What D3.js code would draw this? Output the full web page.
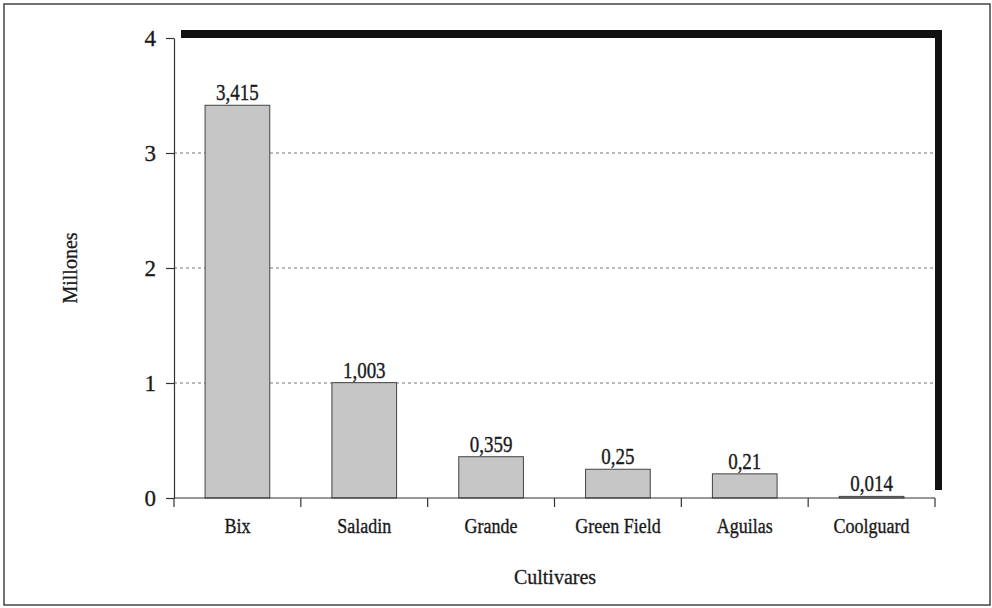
<!DOCTYPE html>
<html><head><meta charset="utf-8">
<script src="https://cdn.jsdelivr.net/npm/d3@7"></script>
<style>body{margin:0;background:#fff}svg{display:block}text{font-family:"Liberation Serif","Times New Roman",serif;fill:#1a1a1a;stroke:#1a1a1a;stroke-width:0.3}</style>
</head><body>
<svg id="c" width="992" height="608"></svg>
<script>
const categories = ["Bix","Saladin","Grande","Green Field","Aguilas","Coolguard"];
const values = [3.415,1.003,0.359,0.25,0.21,0.014];
const valueLabels = ["3,415","1,003","0,359","0,25","0,21","0,014"];
const yTicks = [0,1,2,3,4];

const svg = d3.select("#c");
const L=174,R=935,T=38,B=498;
svg.append("rect").attr("x",4).attr("y",4).attr("width",986).attr("height",601).attr("fill","#fff").attr("stroke","#444").attr("stroke-width",1.5);

const x = d3.scaleBand().domain(categories).range([L,R]).padding(0);
const y = d3.scaleLinear().domain([0,4]).range([B,T]);

// shadow frame
svg.append("rect").attr("x",L+7).attr("y",T-8).attr("width",R-L).attr("height",B-T).attr("fill","#111");
svg.append("rect").attr("x",L).attr("y",T).attr("width",R-L).attr("height",B-T).attr("fill","#fff");

// grid
svg.append("g").selectAll("line").data(yTicks.filter(d=>d>0&&d<4)).join("line")
  .attr("x1",L).attr("x2",R).attr("y1",d=>y(d)).attr("y2",d=>y(d))
  .attr("stroke","#777").attr("stroke-width",1).attr("stroke-dasharray","3,3");

// bars
const bw = x.bandwidth()*0.51;
svg.append("g").selectAll("rect").data(values).join("rect")
  .attr("x",(d,i)=>x(categories[i])+x.bandwidth()/2-bw/2)
  .attr("y",d=>y(d)).attr("width",bw).attr("height",d=>B-y(d))
  .attr("fill","#c6c6c6").attr("stroke","#444").attr("stroke-width",1);

// value labels
svg.append("g").selectAll("text").data(values).join("text")
  .attr("transform",(d,i)=>`translate(${x(categories[i])+x.bandwidth()/2},${y(d)-5}) scale(1,1.18)`)
  .attr("text-anchor","middle").attr("font-size",19).text((d,i)=>valueLabels[i]);

// y axis
const ya = d3.axisLeft(y).tickValues(yTicks).tickSize(8).tickSizeOuter(0).tickPadding(10).tickFormat(d3.format("d"));
const gy = svg.append("g").attr("transform",`translate(${L},0)`).call(ya);
gy.select(".domain").attr("stroke","#333").attr("stroke-width",1.2);
gy.selectAll(".tick line").attr("stroke","#333").attr("stroke-width",1.2);
gy.selectAll(".tick text").attr("font-size",23).attr("font-family","Liberation Serif").attr("fill","#1a1a1a");

// x axis
svg.append("line").attr("x1",L).attr("x2",R).attr("y1",B).attr("y2",B).attr("stroke","#333").attr("stroke-width",1.2);
const bounds = categories.map(c=>x(c)).concat([R]);
svg.append("g").selectAll("line").data(bounds).join("line")
  .attr("x1",d=>d).attr("x2",d=>d).attr("y1",B).attr("y2",B+9).attr("stroke","#333").attr("stroke-width",1.2);
svg.append("g").selectAll("text").data(categories).join("text")
  .attr("transform",d=>`translate(${x(d)+x.bandwidth()/2},${B+35}) scale(1,1.2)`)
  .attr("text-anchor","middle").attr("font-size",18).text(d=>d);

// axis titles
svg.append("text").attr("transform","translate(77,268) rotate(-90)").attr("text-anchor","middle").attr("font-size",20).text("Millones");
svg.append("text").attr("x",555).attr("y",584).attr("text-anchor","middle").attr("font-size",20).text("Cultivares");
</script>
</body></html>
